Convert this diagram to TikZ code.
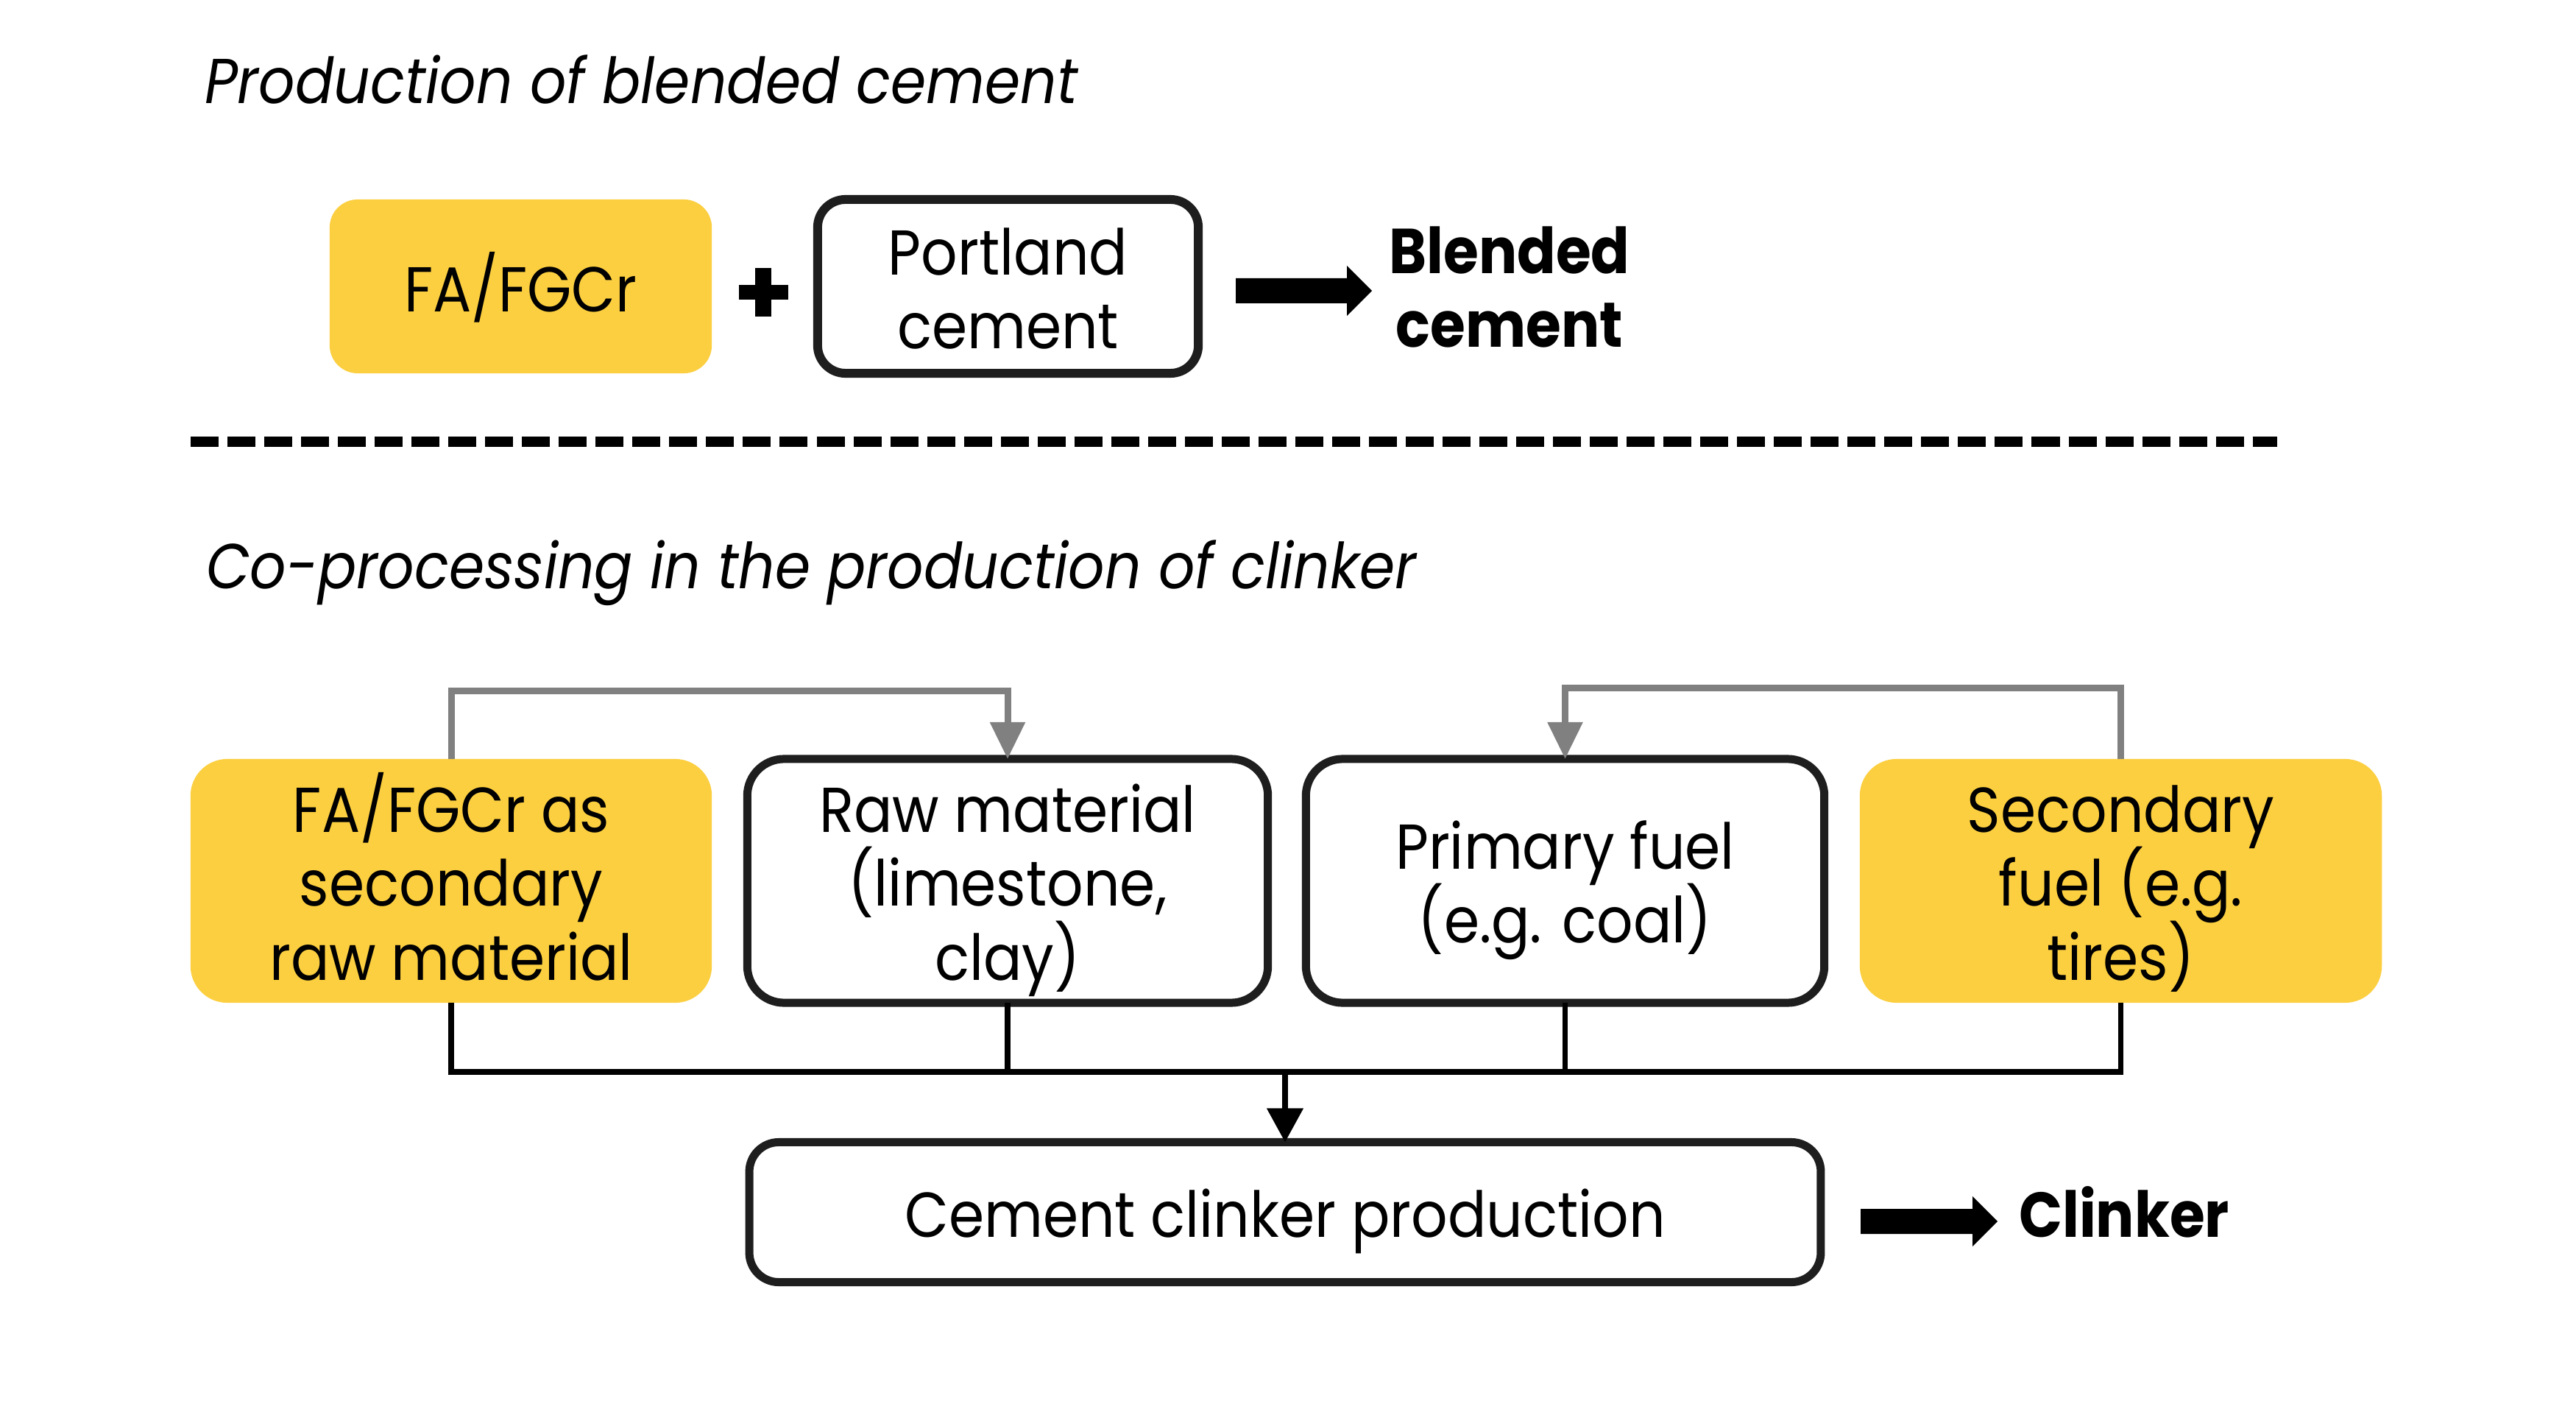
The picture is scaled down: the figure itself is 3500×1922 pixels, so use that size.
\documentclass[tikz,border=0pt]{standalone}
\usepackage{fontspec}
\setmainfont{Poppins}[FakeStretch=0.9]
\usetikzlibrary{arrows.meta,calc}
\definecolor{cyellow}{RGB}{252,207,64}
\definecolor{cborder}{RGB}{30,30,30}
\definecolor{cgray}{RGB}{128,128,128}
\newcommand\hstr{\rule{0pt}{1.15em}}
\newcommand\dstr{\rule[-0.35em]{0pt}{0pt}}
\newcommand\firstl[1]{\hstr\smash{#1}}
\newcommand\midl[1]{\smash{#1}}
\newcommand\lastl[1]{\smash{#1}\dstr}
\newcommand\onel[1]{\hstr\smash{#1}\dstr}
\begin{document}
\begin{tikzpicture}[x=0.01cm,y=-0.01cm,
  every node/.style={font=\fontsize{24.5pt}{28.45pt}\selectfont, inner sep=0pt, outer sep=0pt},
  ybox/.style={fill=cyellow, rounded corners=0.5cm, align=center},
  wbox/.style={draw=cborder, line width=0.11cm, fill=white, rounded corners=0.5cm, align=center},
  grayline/.style={draw=cgray, line width=0.09cm, -{Triangle[width=0.46cm,length=0.5cm]}},
  blkline/.style={draw=black, line width=0.075cm},
]
\fill[white] (0,0) rectangle (3500,1922);

% ---------- top section ----------
\node[anchor=base west, font=\fontsize{24.5pt}{28.45pt}\selectfont\itshape] (t1) at (278,141) {Production of blended cement};

\node[ybox, rounded corners=0.38cm, minimum width=5.19cm, minimum height=2.36cm] (fa) at (707.5,389) {\onel{FA/FGCr}};
\node[wbox, rounded corners=0.38cm, line width=0.12cm, minimum width=5.17cm, minimum height=2.36cm] (pc) at (1369.5,389) {\firstl{Portland}\\\lastl{cement}};
\node[align=center, font=\fontsize{24.5pt}{28.45pt}\selectfont\bfseries] (bc) at (2051,387.5) {\firstl{Blended}\\\lastl{cement}};

% plus sign
\coordinate (plus) at (1037,397);
\fill[black] ($(plus)+(-33.5,-10)$) rectangle ($(plus)+(33.5,10)$);
\fill[black] ($(plus)+(-11,-33)$) rectangle ($(plus)+(11,33)$);

% thick arrow 1
\coordinate (a1) at (1679,395);
\fill[black] (a1) ++(0,-17) -- ++(151,0) -- ++(0,-17) -- ++(34,34) -- ++(-34,34) -- ++(0,-17) -- ++(-151,0) -- cycle;

% dashed separator
\draw[line width=0.13cm, dash pattern=on 0.38cm off 0.12cm] (259,600) -- (3094,600);

% ---------- bottom section ----------
\node[anchor=base west, font=\fontsize{24.5pt}{28.45pt}\selectfont\itshape] (t2) at (280,800) {Co-processing in the production of clinker};

\node[ybox, minimum width=7.08cm, minimum height=3.31cm] (b1) at (613,1196.5) {\firstl{FA/FGCr as}\\\midl{secondary}\\\lastl{raw material}};
\node[wbox, minimum width=7.07cm, minimum height=3.31cm] (b2) at (1369,1196.5) {\firstl{Raw material}\\\midl{(limestone,}\\\lastl{clay)}};
\node[wbox, minimum width=7.04cm, minimum height=3.31cm] (b3) at (2126.5,1196.5) {\firstl{Primary fuel}\\\lastl{(e.g. coal)}};
\node[ybox, minimum width=7.09cm, minimum height=3.31cm] (b4) at (2881.5,1196.5) {\firstl{Secondary}\\\midl{fuel (e.g.}\\\lastl{tires)}};

\node[wbox, rounded corners=0.4cm, minimum width=14.55cm, minimum height=1.90cm] (b5) at (1746,1646.5) {\onel{Cement clinker production}};
\node[anchor=base, font=\fontsize{24.5pt}{28.45pt}\selectfont\bfseries] (cl) at (2886,1680) {Clinker};

% gray feedback connectors
\coordinate (gy1) at (0,938);
\coordinate (gy2) at (0,934);
\draw[grayline] (b1.north) -- (b1.north |- gy1) -- (b2.north |- gy1) -- (b2.north);
\draw[grayline] (b4.north) -- (b4.north |- gy2) -- (b3.north |- gy2) -- (b3.north);

% black bus
\coordinate (bus) at (0,1456);
\draw[blkline] (b1.south) -- (b1.south |- bus) -- (b4.south |- bus) -- (b4.south);
\draw[blkline] (b2.south) -- (b2.south |- bus);
\draw[blkline] (b3.south) -- (b3.south |- bus);
\draw[blkline, -{Triangle[width=0.48cm,length=0.46cm]}] (b5.north |- bus) -- (b5.north);

% thick arrow 2
\coordinate (a2) at (2528,1659);
\fill[black] (a2) ++(0,-17) -- ++(152,0) -- ++(0,-17) -- ++(34,34) -- ++(-34,34) -- ++(0,-17) -- ++(-152,0) -- cycle;
\end{tikzpicture}
\end{document}
